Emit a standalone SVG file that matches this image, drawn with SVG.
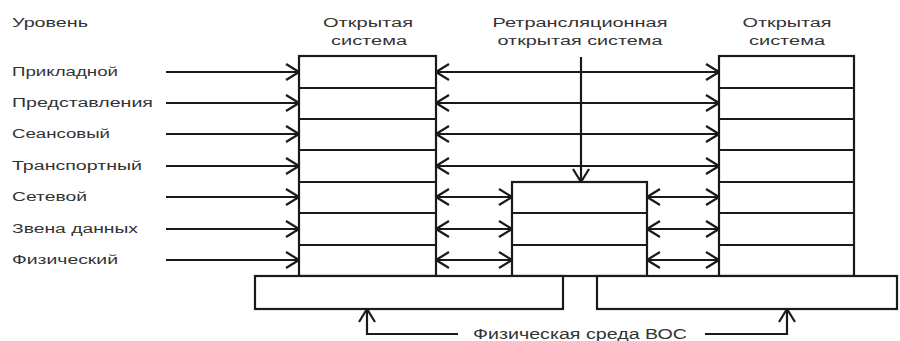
<svg xmlns="http://www.w3.org/2000/svg" width="900" height="341" viewBox="0 0 900 341">
  <style>
    .box { fill: #ffffff; stroke: #1a1a1a; stroke-width: 2.2; }
    .row { stroke: #1a1a1a; stroke-width: 2; }
    .line { fill: none; stroke: #1a1a1a; stroke-width: 2.2; }
    .lbl { font-family: "Liberation Sans", Arial, sans-serif; font-size: 12px; fill: #333333; }
    .hdr { font-family: "Liberation Sans", Arial, sans-serif; font-size: 12px; fill: #333333; text-anchor: middle; }
  </style>
  <defs>
    <marker id="head" viewBox="0 0 15 18" refX="14" refY="9" markerWidth="15" markerHeight="18" markerUnits="userSpaceOnUse" orient="auto-start-reverse">
      <path d="M1,1 L14,9 L1,17" fill="none" stroke="#1a1a1a" stroke-width="2.2"/>
    </marker>
  </defs>
  <rect width="900" height="341" fill="#ffffff"/>

  <!-- level names -->
  <g id="levels">
    <text class="lbl" x="12" y="27" textLength="76" lengthAdjust="spacingAndGlyphs">Уровень</text>
    <text class="lbl" x="12" y="76" textLength="106" lengthAdjust="spacingAndGlyphs">Прикладной</text>
    <text class="lbl" x="12" y="107" textLength="141" lengthAdjust="spacingAndGlyphs">Представления</text>
    <text class="lbl" x="12" y="138" textLength="98" lengthAdjust="spacingAndGlyphs">Сеансовый</text>
    <text class="lbl" x="12" y="170" textLength="130" lengthAdjust="spacingAndGlyphs">Транспортный</text>
    <text class="lbl" x="12" y="201" textLength="75" lengthAdjust="spacingAndGlyphs">Сетевой</text>
    <text class="lbl" x="12" y="233" textLength="126" lengthAdjust="spacingAndGlyphs">Звена данных</text>
    <text class="lbl" x="12" y="264" textLength="106" lengthAdjust="spacingAndGlyphs">Физический</text>
  </g>

  <!-- left end system -->
  <g id="open-system-left">
    <text class="hdr" x="368" y="27" textLength="90" lengthAdjust="spacingAndGlyphs">Открытая</text>
    <text class="hdr" x="369" y="45" textLength="76" lengthAdjust="spacingAndGlyphs">система</text>
    <rect class="box" x="299" y="56" width="137" height="220"/>
    <line class="row" x1="299" y1="88" x2="436" y2="88"/>
    <line class="row" x1="299" y1="119" x2="436" y2="119"/>
    <line class="row" x1="299" y1="150" x2="436" y2="150"/>
    <line class="row" x1="299" y1="182" x2="436" y2="182"/>
    <line class="row" x1="299" y1="213" x2="436" y2="213"/>
    <line class="row" x1="299" y1="245" x2="436" y2="245"/>
  </g>

  <!-- relay system -->
  <g id="relay-system">
    <text class="hdr" x="580" y="27" textLength="175" lengthAdjust="spacingAndGlyphs">Ретрансляционная</text>
    <text class="hdr" x="580" y="45" textLength="165" lengthAdjust="spacingAndGlyphs">открытая система</text>
    <rect class="box" x="512" y="182" width="135" height="94"/>
    <line class="row" x1="512" y1="213" x2="647" y2="213"/>
    <line class="row" x1="512" y1="245" x2="647" y2="245"/>
  </g>

  <!-- right end system -->
  <g id="open-system-right">
    <text class="hdr" x="787" y="27" textLength="89" lengthAdjust="spacingAndGlyphs">Открытая</text>
    <text class="hdr" x="787" y="45" textLength="76" lengthAdjust="spacingAndGlyphs">система</text>
    <rect class="box" x="719" y="56" width="135" height="220"/>
    <line class="row" x1="719" y1="88" x2="854" y2="88"/>
    <line class="row" x1="719" y1="119" x2="854" y2="119"/>
    <line class="row" x1="719" y1="150" x2="854" y2="150"/>
    <line class="row" x1="719" y1="182" x2="854" y2="182"/>
    <line class="row" x1="719" y1="213" x2="854" y2="213"/>
    <line class="row" x1="719" y1="245" x2="854" y2="245"/>
  </g>

  <!-- physical medium -->
  <g id="physical-medium">
    <rect class="box" x="255" y="276" width="308" height="33"/>
    <rect class="box" x="597" y="276" width="300" height="33"/>
    <line class="row" x1="255" y1="276" x2="897" y2="276"/>
    <text class="hdr" x="580" y="339" textLength="214" lengthAdjust="spacingAndGlyphs" style="font-size:14px">Физическая среда ВОС</text>
  </g>

  <!-- connectors -->
  <g id="connectors">
    <line class="line" x1="166" y1="72" x2="299" y2="72" marker-end="url(#head)"/>
    <line class="line" x1="166" y1="103" x2="299" y2="103" marker-end="url(#head)"/>
    <line class="line" x1="166" y1="134" x2="299" y2="134" marker-end="url(#head)"/>
    <line class="line" x1="166" y1="166" x2="299" y2="166" marker-end="url(#head)"/>
    <line class="line" x1="166" y1="197" x2="299" y2="197" marker-end="url(#head)"/>
    <line class="line" x1="166" y1="229" x2="299" y2="229" marker-end="url(#head)"/>
    <line class="line" x1="166" y1="260" x2="299" y2="260" marker-end="url(#head)"/>

    <line class="line" x1="436" y1="72" x2="719" y2="72" marker-start="url(#head)" marker-end="url(#head)"/>
    <line class="line" x1="436" y1="103" x2="719" y2="103" marker-start="url(#head)" marker-end="url(#head)"/>
    <line class="line" x1="436" y1="134" x2="719" y2="134" marker-start="url(#head)" marker-end="url(#head)"/>
    <line class="line" x1="436" y1="166" x2="719" y2="166" marker-start="url(#head)" marker-end="url(#head)"/>

    <line class="line" x1="436" y1="197" x2="512" y2="197" marker-start="url(#head)" marker-end="url(#head)"/>
    <line class="line" x1="436" y1="229" x2="512" y2="229" marker-start="url(#head)" marker-end="url(#head)"/>
    <line class="line" x1="436" y1="260" x2="512" y2="260" marker-start="url(#head)" marker-end="url(#head)"/>
    <line class="line" x1="647" y1="197" x2="719" y2="197" marker-start="url(#head)" marker-end="url(#head)"/>
    <line class="line" x1="647" y1="229" x2="719" y2="229" marker-start="url(#head)" marker-end="url(#head)"/>
    <line class="line" x1="647" y1="260" x2="719" y2="260" marker-start="url(#head)" marker-end="url(#head)"/>

    <line class="line" x1="581" y1="57" x2="581" y2="182" marker-end="url(#head)"/>

    <polyline class="line" points="458,334 367,334 367,309" marker-end="url(#head)"/>
    <polyline class="line" points="705,334 787,334 787,309" marker-end="url(#head)"/>
  </g>
</svg>
